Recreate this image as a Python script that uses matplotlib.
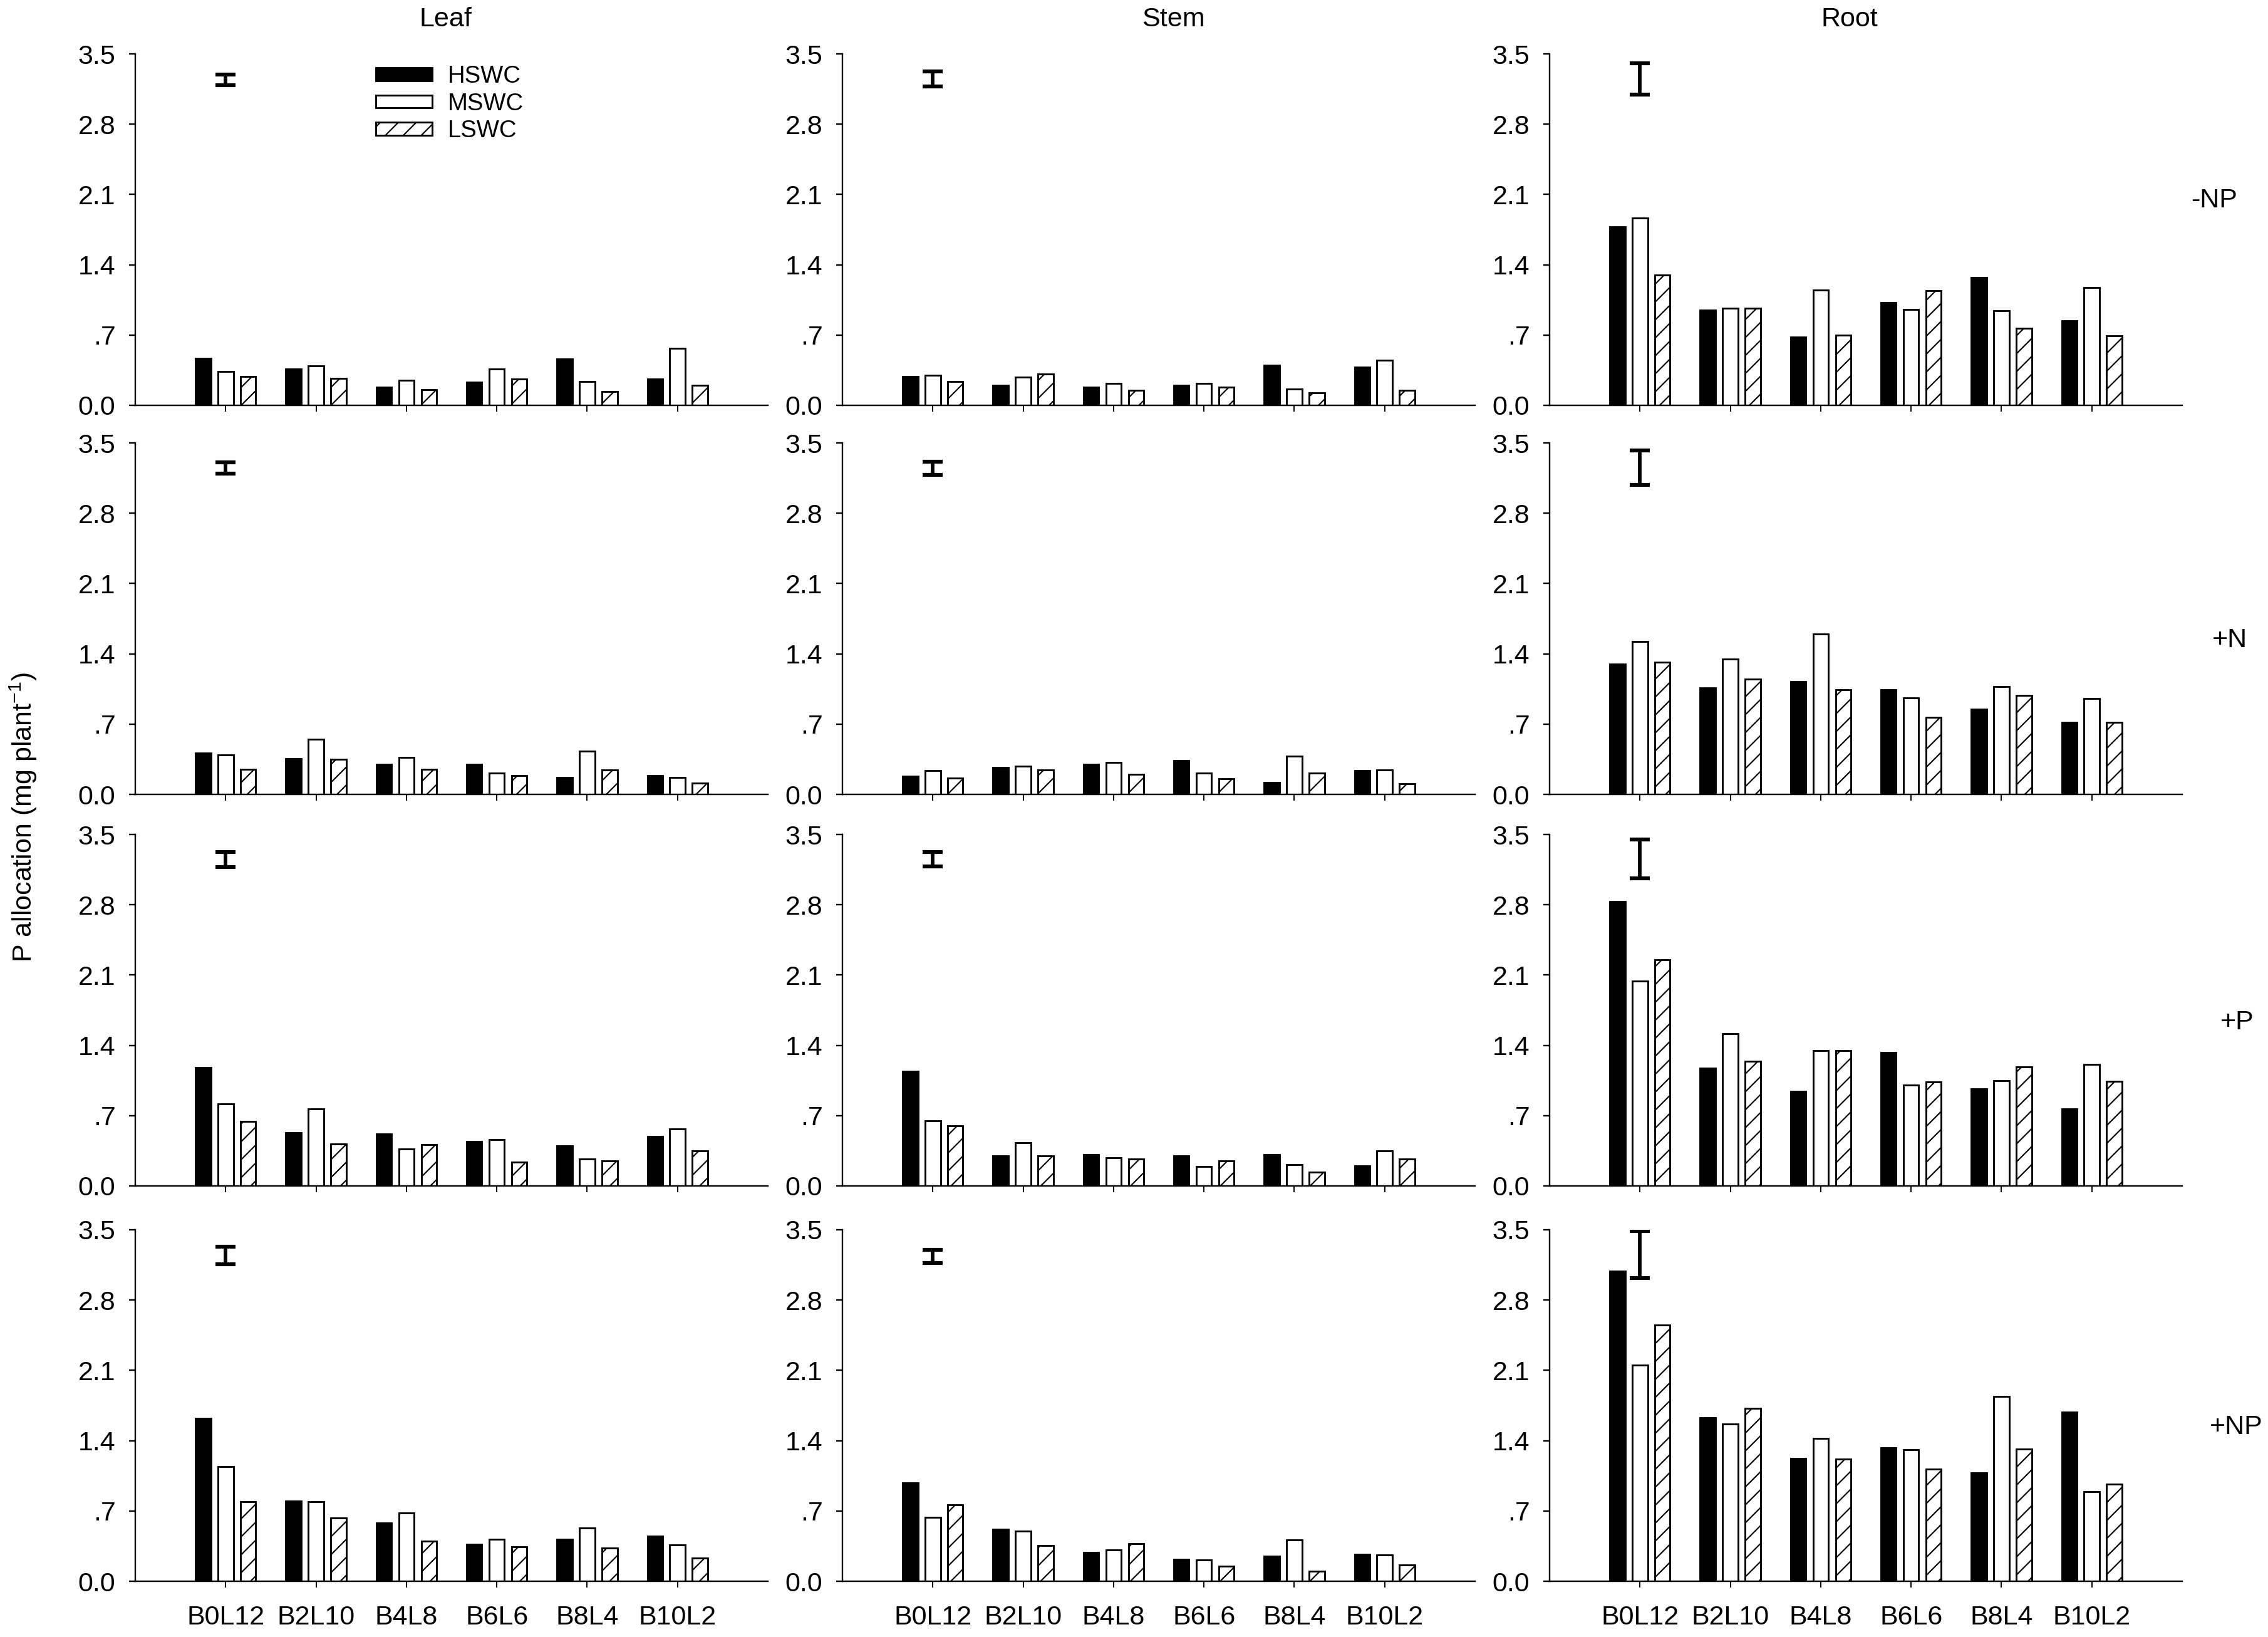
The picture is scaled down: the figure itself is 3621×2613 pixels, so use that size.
import matplotlib
matplotlib.use("Agg")
import matplotlib.pyplot as plt
import numpy as np

DPI = 172
W, H = 3621, 2613

plt.rcParams['font.family'] = ['Liberation Sans', 'DejaVu Sans']
plt.rcParams['mathtext.default'] = 'regular'
plt.rcParams['hatch.linewidth'] = 0.9

categories = ["B0L12", "B2L10", "B4L8", "B6L6", "B8L4", "B10L2"]
organs = ["Leaf", "Stem", "Root"]
treatments = ["-NP", "+N", "+P", "+NP"]
series = ["HSWC", "MSWC", "LSWC"]

# rows: -NP, +N, +P, +NP ; columns follow categories
leaf_hswc = [[0.47, 0.36, 0.18, 0.23, 0.46, 0.26],
             [0.41, 0.355, 0.30, 0.30, 0.17, 0.19],
             [1.18, 0.53, 0.52, 0.44, 0.40, 0.49],
             [1.62, 0.80, 0.58, 0.37, 0.42, 0.45]]
leaf_mswc = [[0.34, 0.39, 0.25, 0.36, 0.24, 0.565],
             [0.39, 0.55, 0.37, 0.21, 0.43, 0.17],
             [0.82, 0.765, 0.37, 0.46, 0.27, 0.565],
             [1.14, 0.79, 0.68, 0.415, 0.53, 0.36]]
leaf_lswc = [[0.29, 0.27, 0.155, 0.26, 0.14, 0.20],
             [0.25, 0.35, 0.25, 0.19, 0.245, 0.11],
             [0.64, 0.42, 0.41, 0.24, 0.25, 0.35],
             [0.79, 0.63, 0.40, 0.345, 0.33, 0.23]]

stem_hswc = [[0.29, 0.20, 0.18, 0.20, 0.40, 0.38],
             [0.18, 0.27, 0.30, 0.34, 0.12, 0.235],
             [1.14, 0.30, 0.31, 0.30, 0.31, 0.20],
             [0.98, 0.52, 0.29, 0.22, 0.25, 0.27]]
stem_mswc = [[0.30, 0.28, 0.22, 0.22, 0.165, 0.45],
             [0.24, 0.28, 0.32, 0.21, 0.38, 0.245],
             [0.65, 0.43, 0.28, 0.195, 0.21, 0.35],
             [0.635, 0.50, 0.315, 0.21, 0.41, 0.26]]
stem_lswc = [[0.235, 0.31, 0.15, 0.18, 0.125, 0.15],
             [0.165, 0.245, 0.20, 0.155, 0.215, 0.105],
             [0.60, 0.30, 0.27, 0.25, 0.14, 0.27],
             [0.76, 0.355, 0.375, 0.15, 0.10, 0.16]]

root_hswc = [[1.775, 0.95, 0.68, 1.025, 1.27, 0.84],
             [1.30, 1.06, 1.12, 1.045, 0.85, 0.72],
             [2.83, 1.17, 0.945, 1.33, 0.97, 0.77],
             [3.09, 1.63, 1.225, 1.33, 1.08, 1.685]]
root_mswc = [[1.865, 0.97, 1.145, 0.955, 0.94, 1.17],
             [1.52, 1.35, 1.60, 0.96, 1.075, 0.955],
             [2.04, 1.515, 1.345, 1.005, 1.05, 1.21],
             [2.15, 1.565, 1.425, 1.31, 1.84, 0.89]]
root_lswc = [[1.30, 0.97, 0.70, 1.14, 0.77, 0.69],
             [1.315, 1.15, 1.045, 0.77, 0.985, 0.715],
             [2.25, 1.24, 1.345, 1.035, 1.185, 1.04],
             [2.55, 1.72, 1.215, 1.115, 1.315, 0.97]]

# LSD-type bar drawn above first group: centre and half length
leaf_err_mid = [3.24, 3.25, 3.25, 3.245]
leaf_err_half = [0.055, 0.055, 0.077, 0.088]
stem_err_mid = [3.25, 3.245, 3.254, 3.235]
stem_err_half = [0.077, 0.065, 0.074, 0.065]
root_err_mid = [3.25, 3.254, 3.256, 3.253]
root_err_half = [0.157, 0.172, 0.193, 0.236]

yticks = [0.0, 0.7, 1.4, 2.1, 2.8, 3.5]
ytick_labels = ["0.0", ".7", "1.4", "2.1", "2.8", "3.5"]

data = {
    "Leaf": (leaf_hswc, leaf_mswc, leaf_lswc, leaf_err_mid, leaf_err_half),
    "Stem": (stem_hswc, stem_mswc, stem_lswc, stem_err_mid, stem_err_half),
    "Root": (root_hswc, root_mswc, root_lswc, root_err_mid, root_err_half),
}

fig = plt.figure(figsize=(W / DPI, H / DPI), dpi=DPI)

col_x = [216, 1345, 2474]
ax_w = 1010
row_top = [86, 707, 1332, 1963]
ax_h = 561
fs = 18

x = np.arange(1, len(categories) + 1)
offs = [-0.249, 0.0, 0.249]
bw = 0.17
styles = [dict(color="black", edgecolor="black"),
          dict(color="white", edgecolor="black"),
          dict(color="white", edgecolor="black", hatch="//")]

for c, organ in enumerate(organs):
    h_, m_, l_, emid, ehalf = data[organ]
    for r, trt in enumerate(treatments):
        rect = [col_x[c] / W, 1 - (row_top[r] + ax_h) / H, ax_w / W, ax_h / H]
        ax = fig.add_axes(rect)
        for k, vals in enumerate((h_[r], m_[r], l_[r])):
            ax.bar(x + offs[k], vals, bw, linewidth=1.2, label=series[k],
                   **styles[k])
        ax.errorbar([1], [emid[r]], yerr=[ehalf[r]], color="black", lw=2.4,
                    capsize=6.5, capthick=2.6, fmt="none")
        ax.set_xlim(0, 7)
        ax.set_ylim(0, 3.5)
        ax.set_yticks(yticks)
        ax.set_yticklabels(ytick_labels)
        ax.set_xticks(x)
        if r == 3:
            ax.set_xticklabels(categories)
        else:
            ax.set_xticklabels([])
        ax.spines["top"].set_visible(False)
        ax.spines["right"].set_visible(False)
        for sp in ("left", "bottom"):
            ax.spines[sp].set_linewidth(1.0)
        ax.tick_params(axis="y", direction="out", length=4.2, width=1.0,
                       labelsize=fs, pad=9)
        ax.tick_params(axis="x", direction="out", length=4, width=0.8,
                       labelsize=fs, pad=12)
        if c == 0 and r == 0:
            ax.legend(loc="upper left", bbox_to_anchor=(0.38, 0.968),
                      frameon=False, fontsize=16, handlelength=2.35,
                      handleheight=0.45, handletextpad=0.65,
                      labelspacing=0.2, borderpad=0, borderaxespad=0)

# column titles
for name, cx in zip(organs, [711, 1873, 2953]):
    fig.text(cx / W, 1 - 31 / H, name, ha="center", va="center", fontsize=fs)

# treatment labels on the right
for trt, (tx, ty) in zip(treatments, [(3535, 320), (3560, 1022),
                                      (3572, 1632), (3570, 2278)]):
    fig.text(tx / W, 1 - ty / H, trt, ha="center", va="center", fontsize=fs)

fig.text(37 / W, 1 - 1305 / H, "P allocation (mg plant$^{-1}$)",
         rotation=90, ha="center", va="center", fontsize=fs)

fig.savefig("out.png", dpi=DPI)
